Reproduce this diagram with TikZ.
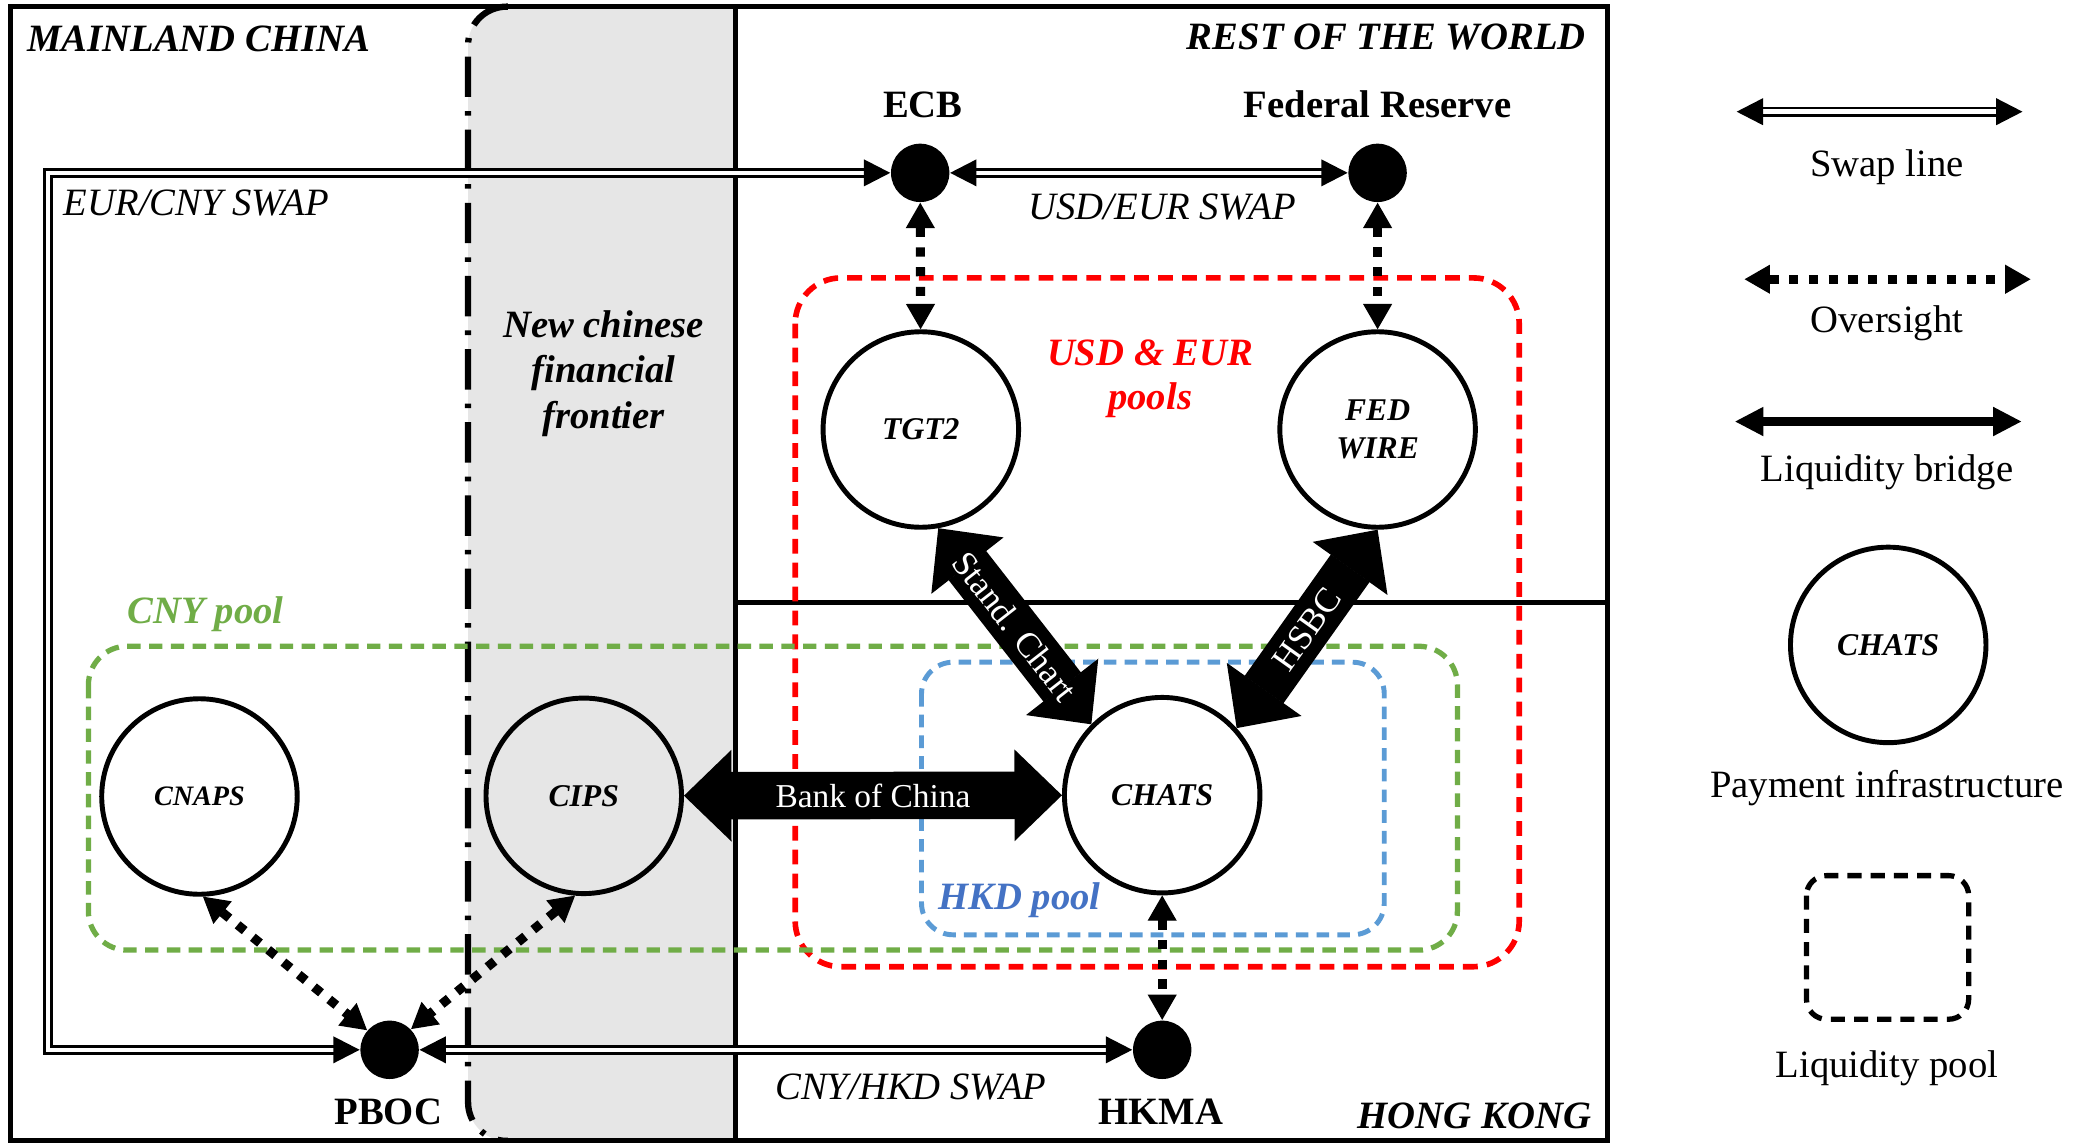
\documentclass[tikz,border=0pt]{standalone}
\usepackage{fontspec}
\setmainfont{Liberation Serif}
\usetikzlibrary{arrows.meta}
\definecolor{poolred}{RGB}{255,0,0}
\definecolor{poolgreen}{RGB}{112,173,71}
\definecolor{poolblue}{RGB}{91,155,213}
\definecolor{hkdtext}{RGB}{68,114,196}
\definecolor{frontgray}{RGB}{230,230,230}
\begin{document}
\begin{tikzpicture}[x=0.013297cm, y=-0.013297cm,
  region/.style={font=\fontsize{11}{13}\selectfont\bfseries\itshape, inner sep=0pt},
  cblabel/.style={font=\fontsize{11}{13}\selectfont\bfseries, inner sep=0pt},
  swaplabel/.style={font=\fontsize{11}{13}\selectfont\itshape, inner sep=0pt},
  leglabel/.style={font=\fontsize{11}{13}\selectfont, inner sep=0pt},
  infra/.style={circle, draw, line width=1.4pt, minimum size=55.6pt, inner sep=0pt,
    font=\fontsize{9}{11}\selectfont\bfseries\itshape, align=center},
  cbdot/.style={circle, fill=black, minimum size=16.6pt, inner sep=0pt},
  frameline/.style={line width=1.6pt},
  frontierline/.style={line width=1.8pt, dash pattern=on 11.5pt off 4pt on 1.3pt off 4pt},
  swapline/.style={line width=0.75pt, double=white, double distance=1.3pt,
    {Triangle[length=7.5pt,width=7.5pt]}-{Triangle[length=7.5pt,width=7.5pt]}},
  oversight/.style={line width=2.6pt, dash pattern=on 2.6pt off 3pt,
    {Triangle[length=7.2pt,width=8.2pt,line width=0.4pt]}-{Triangle[length=7.2pt,width=8.2pt,line width=0.4pt]}},
  bridge/.style={line width=13.5pt,
    {Triangle[length=13.5pt,width=26pt,line width=0.4pt]}-{Triangle[length=13.5pt,width=26pt,line width=0.4pt]}},
  legbridge/.style={line width=2.7pt,
    {Triangle[length=8pt,width=8.3pt,line width=0.4pt]}-{Triangle[length=8pt,width=8.3pt,line width=0.4pt]}},
  bridgetext/.style={text=white, font=\fontsize{10}{12}\selectfont, inner sep=0pt},
  pool/.style={line width=1.5pt, dash pattern=on 3.8pt off 2.4pt}
]
% canvas
\fill[white] (0,0) rectangle (1568,859);
\useasboundingbox (0,0) rectangle (1568,859);

% frontier strip
\fill[frontgray, rounded corners=11pt] (352,5) rectangle (553,858);
\fill[frontgray] (420,5) rectangle (553,858);
\draw[frontierline, rounded corners=11pt] (382,5) -- (352,5) -- (352,858) -- (382,858);

% frame and dividers
\draw[frameline] (8,5) rectangle (1209,858);
\draw[frameline] (553,5) -- (553,858);
\draw[frameline] (553,453) -- (1209,453);

% liquidity pools
\draw[pool, poolred, line width=1.6pt, dash pattern=on 4.2pt off 2.6pt, rounded corners=13pt] (598,209) rectangle (1142.5,727);
\draw[pool, poolgreen, rounded corners=11pt] (66.5,486) rectangle (1096,714.5);
\draw[pool, poolblue, line width=1.4pt, dash pattern=on 3.6pt off 2.3pt, rounded corners=9pt] (693,498) rectangle (1041,703);
\draw[pool, black, line width=1.5pt, dash pattern=on 4pt off 2.6pt, rounded corners=5.7pt] (1358.5,658.5) rectangle (1480.5,766.5);

% payment infrastructures
\node[infra] (tgt2) at (692.5,323) {TGT2};
\node[infra] (fedwire) at (1036,323) {FED\\WIRE};
\node[infra, font=\fontsize{8}{10}\selectfont\bfseries\itshape] (cnaps) at (150,599) {CNAPS};
\node[infra] (cips) at (439,598.5) {CIPS};
\node[infra] (chats) at (874,598) {CHATS};
\node[infra] (legchats) at (1420,485) {CHATS};

% central banks
\node[cbdot] (ecb) at (692,130) {};
\node[cbdot] (fed) at (1036,130) {};
\node[cbdot] (pboc) at (293,789.5) {};
\node[cbdot] (hkma) at (874,789.5) {};

% swap lines
\coordinate (swA) at (36,789.5);
\coordinate (swB) at (36,130);
\draw[swapline] (pboc.west) -- (swA) -- (swB) -- (ecb.west);
\draw[swapline] (ecb) -- (fed);
\draw[swapline] (pboc) -- (hkma);

% oversight
\draw[oversight] (ecb) -- (tgt2);
\draw[oversight] (fed) -- (fedwire);
\draw[oversight] (chats) -- (hkma);
\draw[oversight] (cnaps.-88) -- (pboc.139);
\draw[oversight] (cips.-95) -- (pboc.44);

% liquidity bridges
\draw[bridge] (cips) -- node[bridgetext, font=\fontsize{9.5}{11}\selectfont] (boc) {Bank of China} (chats);
\draw[bridge] (tgt2.-80) -- node[bridgetext, sloped] (sc) {Stand. Chart} (chats.135);
\draw[bridge] (chats.42) -- node[bridgetext, sloped] (hsbc) {HSBC} (fedwire.-90);

% region labels
\node[region, anchor=base west] (mc) at (20,39) {MAINLAND CHINA};
\node[region, anchor=base east] (row) at (1193,37.5) {REST OF THE WORLD};
\node[region, anchor=base east] (hk) at (1197,849) {HONG KONG};
\node[region, align=center, font=\fontsize{11}{12.9}\selectfont\bfseries\itshape] (nff) at (454,281) {New chinese\\financial\\frontier};

% pool labels
\node[region, text=poolred, align=center, font=\fontsize{11}{12.5}\selectfont\bfseries\itshape] (usdeurlbl) at (865,285) {USD \& EUR\\pools};
\node[region, text=poolgreen, anchor=base west] (cnylbl) at (95.5,469) {CNY pool};
\node[region, text=hkdtext, anchor=base west] (hkdlbl) at (705,684) {HKD pool};

% central bank labels
\node[cblabel, anchor=base] (ecblbl) at (694,88) {ECB};
\node[cblabel, anchor=base] (fedlbl) at (1036,88) {Federal Reserve};
\node[cblabel, anchor=base] (pboclbl) at (292,846) {PBOC};
\node[cblabel, anchor=base] (hkmalbl) at (873,846) {HKMA};

% swap labels
\node[swaplabel, anchor=base west] (eurcny) at (47.5,162) {EUR/CNY SWAP};
\node[swaplabel, anchor=base] (usdeur) at (874,165) {USD/EUR SWAP};
\node[swaplabel, anchor=base] (cnyhkd) at (685,827) {CNY/HKD SWAP};

% legend
\coordinate (lsA) at (1306,84);
\coordinate (lsB) at (1521,84);
\coordinate (loA) at (1312,210);
\coordinate (loB) at (1527,210);
\coordinate (lbA) at (1305,317);
\coordinate (lbB) at (1520,317);
\draw[swapline] (lsA) -- (lsB);
\draw[oversight] (loA) -- (loB);
\draw[legbridge] (lbA) -- (lbB);
\node[leglabel, anchor=base] (l1) at (1419,133) {Swap line};
\node[leglabel, anchor=base] (l2) at (1419,250) {Oversight};
\node[leglabel, anchor=base] (l3) at (1419,362) {Liquidity bridge};
\node[leglabel, anchor=base] (l4) at (1419,600) {Payment infrastructure};
\node[leglabel, anchor=base] (l5) at (1419,810) {Liquidity pool};
\end{tikzpicture}
\end{document}
